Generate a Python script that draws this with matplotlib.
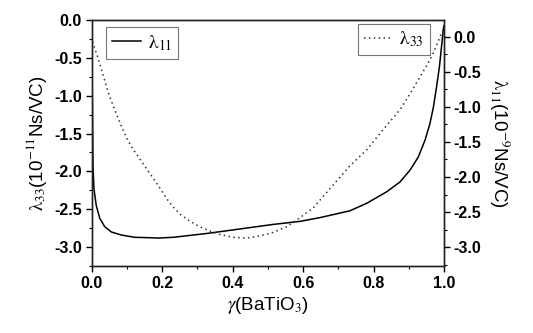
import matplotlib
matplotlib.use("Agg")
import matplotlib.pyplot as plt
from matplotlib.ticker import MultipleLocator

plt.rcParams["font.family"] = ["Liberation Sans", "DejaVu Sans"]
plt.rcParams["mathtext.fontset"] = "stix"

# lambda_11 (solid)
x11 = [0.0, 0.001, 0.002, 0.003, 0.0037, 0.0065, 0.013, 0.023, 0.037, 0.056,
       0.084, 0.122, 0.16, 0.19, 0.232, 0.326, 0.421, 0.515, 0.591, 0.648,
       0.686, 0.733, 0.781, 0.837, 0.875, 0.904, 0.927, 0.946, 0.960, 0.970,
       0.979, 0.987, 0.993, 0.998, 0.9995]
y11 = [0.0, -0.6, -1.1, -1.55, -1.92, -2.23, -2.45, -2.62, -2.73, -2.80,
       -2.84, -2.87, -2.875, -2.88, -2.87, -2.82, -2.76, -2.70, -2.66, -2.61,
       -2.57, -2.52, -2.42, -2.27, -2.14, -1.98, -1.81, -1.59, -1.37, -1.15,
       -0.88, -0.62, -0.35, -0.13, -0.08]

# lambda_33 (dotted)
x33 = [0.0, 0.0037, 0.018, 0.032, 0.046, 0.060, 0.075, 0.089, 0.103, 0.117,
       0.131, 0.150, 0.175, 0.194, 0.213, 0.232, 0.251, 0.279, 0.307, 0.336,
       0.364, 0.402, 0.44, 0.478, 0.515, 0.553, 0.591, 0.629, 0.686, 0.733,
       0.781, 0.828, 0.875, 0.904, 0.932, 0.952, 0.970, 0.983, 0.993, 1.0]
y33 = [0.0, -0.09, -0.30, -0.54, -0.78, -0.97, -1.16, -1.33, -1.48, -1.60,
       -1.70, -1.84, -2.02, -2.16, -2.31, -2.43, -2.53, -2.63, -2.71, -2.77,
       -2.82, -2.86, -2.87, -2.84, -2.79, -2.71, -2.58, -2.44, -2.11, -1.84,
       -1.61, -1.32, -1.04, -0.81, -0.57, -0.40, -0.23, -0.07, 0.05, 0.12]

fig = plt.figure(figsize=(5.33, 3.33), dpi=100)
ax = fig.add_axes([0.172, 0.201, 0.661, 0.739])
ax2 = ax.twinx()

l1, = ax.plot(x11, y11, color="black", lw=1.1)
l2, = ax2.plot(x33, y33, color="#333333", lw=1.1, linestyle=(0, (1, 2.2)))

ax.set_xlim(0, 1.0)
ax.set_ylim(-3.25, 0)
ax2.set_ylim(-3.27, 0.24)

ax.xaxis.set_major_locator(MultipleLocator(0.2))
ax.xaxis.set_minor_locator(MultipleLocator(0.1))
for a in (ax, ax2):
    a.yaxis.set_major_locator(MultipleLocator(0.5))
    a.yaxis.set_minor_locator(MultipleLocator(0.25))
    a.tick_params(which="major", direction="out", length=4, width=1, pad=3)
    a.tick_params(which="minor", direction="out", length=2.5, width=0.8)
    for s in a.spines.values():
        s.set_linewidth(1.0)
        s.set_color("#222222")

ax.tick_params(top=False, right=False)
ax2.tick_params(left=False, top=False)

tfs = 11.5
ax.set_xticklabels([f"{v:.1f}" for v in ax.get_xticks()], fontweight="bold", fontsize=tfs)
ax.set_yticklabels([f"{v:.1f}" for v in ax.get_yticks()], fontweight="bold", fontsize=tfs)
ax2.set_yticklabels([f"{v:.1f}" for v in ax2.get_yticks()], fontweight="bold", fontsize=tfs)

ax.set_xlabel(r"$\gamma$(BaTiO$_3$)", fontsize=13.5, labelpad=3)
ax.set_ylabel(r"$\mathrm{\lambda}_{33}$(10$^{-11}$Ns/VC)", fontsize=13.5, labelpad=4)
ax2.set_ylabel(r"$\mathrm{\lambda}_{11}$(10$^{-9}$Ns/VC)", fontsize=13.5,
               rotation=270, va="bottom", labelpad=4)

leg1 = ax.legend([l1], [r"$\mathrm{\lambda}_{11}$"], loc="upper left", fontsize=14,
                 fancybox=False, edgecolor="#777777", framealpha=1,
                 handlelength=1.5, handletextpad=0.35, borderpad=0.3,
                 borderaxespad=0, bbox_to_anchor=(0.04, 0.97))
leg2 = ax2.legend([l2], [r"$\mathrm{\lambda}_{33}$"], loc="upper right", fontsize=14,
                  fancybox=False, edgecolor="#777777", framealpha=1,
                  handlelength=1.5, handletextpad=0.35, borderpad=0.3,
                  borderaxespad=0, bbox_to_anchor=(0.96, 0.985))
leg1.get_frame().set_linewidth(0.8)
leg2.get_frame().set_linewidth(0.8)

fig.savefig("out.png", dpi=100)
